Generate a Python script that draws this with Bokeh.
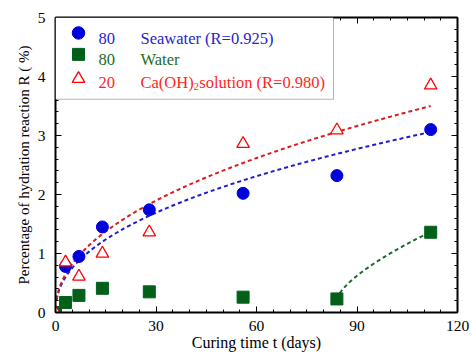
import numpy as np
from bokeh.plotting import figure
from bokeh.models import (Range1d, LinearAxis, SingleIntervalTicker, Label, Title,
                          BoxAnnotation, CustomJSTickFormatter)
from bokeh.embed import file_html
from bokeh.resources import INLINE

# ---------------- data ----------------
days = [0, 3, 7, 14, 28, 56, 84, 112]
seawater = [0, 0.78, 0.95, 1.45, 1.74, 2.02, 2.32, 3.10]
water = [0, 0.17, 0.29, 0.41, 0.35, 0.26, 0.23, 1.36]
caoh2 = [0, 0.85, 0.61, 1.00, 1.36, 2.86, 3.09, 3.85]

# fitted trend lines  R = a * t^b  (water: R = r0 + a*(t - t0)^b)
sea_fit = dict(a=0.366, b=0.45)
ca_fit = dict(a=0.39, b=0.465)
water_fit = dict(t0=84, r0=0.22, a=0.119, b=0.68)

legend_temps = ["80", "80", "20"]
legend_names = ["Seawater (R=0.925)", "Water", "Ca(OH)"]

x_title = "Curing time t (days)"
y_title = "Percentage of hydration reaction R ( %)"
x_ticks_interval = 30
y_ticks_interval = 1

BLUE = "#0000dd"
BLUE_TXT = "#2525cc"
BLUE_LINE = "#1f1fd0"
GREEN = "#03601a"
GREEN_TXT = "#1e6b1e"
GREEN_LINE = "#1e6b2e"
RED = "#ff0000"
RED_TXT = "#ff1f1f"
RED_LINE = "#d42020"
FONT = "Liberation Serif"

# pixel -> data helpers for annotation placement inside the frame
def px2x(px):
    return (px - 55) / 3.35

def py2y(py):
    return (313 - py) / 59.2

p = figure(width=472, height=353, x_range=Range1d(0, 120), y_range=Range1d(0, 5),
           output_backend="svg", toolbar_location=None,
           x_axis_location=None, y_axis_location=None,
           min_border_left=55, min_border_right=15, min_border_top=17, min_border_bottom=40)
p.outline_line_color = None
p.background_fill_color = "white"
p.border_fill_color = "white"
p.grid.visible = False


def style(ax):
    ax.axis_line_width = 2
    ax.axis_line_color = "black"
    ax.major_tick_in = 6
    ax.major_tick_out = 0
    ax.minor_tick_in = 3
    ax.minor_tick_out = 0
    ax.major_tick_line_width = 1
    ax.minor_tick_line_width = 1
    ax.major_tick_line_color = "black"
    ax.minor_tick_line_color = "black"
    ax.major_label_text_font = FONT
    ax.major_label_text_font_size = "15.5px"
    ax.major_label_text_color = "black"
    ax.axis_label_text_font = FONT
    ax.axis_label_text_font_style = "normal"
    ax.axis_label_text_color = "black"


xb = LinearAxis(ticker=SingleIntervalTicker(interval=x_ticks_interval, num_minor_ticks=6),
                axis_label=x_title)
style(xb)
xb.major_label_standoff = 8
xb.axis_label_standoff = 0
xb.axis_label_text_font_size = "16px"
p.add_layout(xb, "below")

yl = LinearAxis(ticker=SingleIntervalTicker(interval=y_ticks_interval, num_minor_ticks=5))
style(yl)
yl.major_label_standoff = 10
p.add_layout(yl, "left")

ytitle = Title(text=y_title, align="center", offset=24, text_font=FONT,
               text_font_size="15px", text_font_style="normal", text_color="black",
               standoff=5)
p.add_layout(ytitle, "left")

blank = CustomJSTickFormatter(code="return ''")
xt = LinearAxis(ticker=SingleIntervalTicker(interval=x_ticks_interval, num_minor_ticks=6),
                formatter=blank)
style(xt)
xt.major_label_standoff = 0
p.add_layout(xt, "above")

yr = LinearAxis(ticker=SingleIntervalTicker(interval=y_ticks_interval, num_minor_ticks=5),
                formatter=blank)
style(yr)
yr.major_label_standoff = 0
p.add_layout(yr, "right")

# ---------------- fitted curves ----------------
t = np.linspace(0.3, 112, 300)
p.line(t, sea_fit["a"] * t ** sea_fit["b"], line_color=BLUE_LINE, line_width=2, line_dash="4 3")
p.line(t, ca_fit["a"] * t ** ca_fit["b"], line_color=RED_LINE, line_width=2, line_dash="4 3")
tw = np.linspace(water_fit["t0"], 112, 200)
p.line(tw, water_fit["r0"] + water_fit["a"] * (tw - water_fit["t0"]) ** water_fit["b"],
       line_color=GREEN_LINE, line_width=2, line_dash="4 3")

# ---------------- data markers ----------------
p.scatter(days, seawater, marker="circle", size=12, fill_color=BLUE, line_color=BLUE)
p.scatter(days, water, marker="square", size=12, fill_color=GREEN, line_color=GREEN)
p.scatter(days, caoh2, marker="triangle", size=12.5, fill_color="white", line_color=RED,
          line_width=1.3)

# ---------------- legend (manual) ----------------
box = BoxAnnotation(left=0, right=px2x(333), top=5, bottom=py2y(99),
                    fill_color="white", fill_alpha=1, line_color="black", line_width=1,
                    level="annotation")
p.add_layout(box)

lx = px2x(78)
p.scatter([lx], [py2y(32.5)], marker="circle", size=12.5, fill_color=BLUE, line_color=BLUE,
          level="overlay")
p.scatter([lx], [py2y(54)], marker="square", size=12, fill_color=GREEN, line_color=GREEN,
          level="overlay")
p.scatter([lx], [py2y(78.5)], marker="triangle", size=12.5, fill_color="white",
          line_color=RED, line_width=1.3, level="overlay")

row_base = [38, 59.5, 82.5]
txt_cols = [BLUE_TXT, GREEN_TXT, RED_TXT]
for temp, name, base, col in zip(legend_temps, legend_names, row_base, txt_cols):
    p.add_layout(Label(x=px2x(98), y=py2y(base), text=temp, text_color=col, text_font=FONT,
                       text_font_size="16.5px", text_baseline="alphabetic", level="overlay"))
    p.add_layout(Label(x=px2x(140), y=py2y(base), text=name, text_color=col, text_font=FONT,
                       text_font_size="16.5px", text_baseline="alphabetic", level="overlay"))
p.add_layout(Label(x=px2x(193), y=py2y(86.5), text="2", text_color=RED_TXT, text_font=FONT,
                   text_font_size="11px", text_baseline="alphabetic", level="overlay"))
p.add_layout(Label(x=px2x(198.8), y=py2y(82.5), text="solution (R=0.980)", text_color=RED_TXT,
                   text_font=FONT, text_font_size="16.5px", text_baseline="alphabetic",
                   level="overlay"))

open("out.html", "w").write(file_html(p, INLINE))
